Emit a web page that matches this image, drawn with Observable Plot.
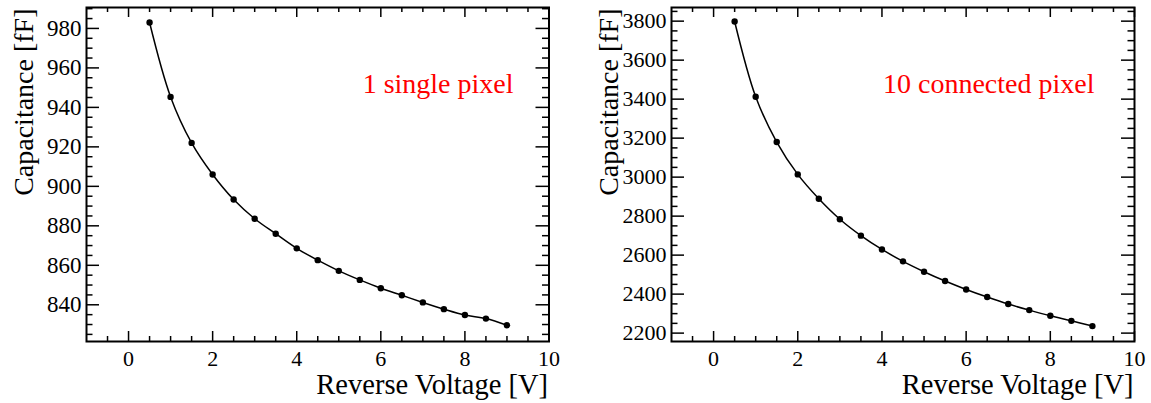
<!DOCTYPE html>
<html>
<head>
<meta charset="utf-8">
<script src="https://cdn.jsdelivr.net/npm/d3@7"></script>
<script src="https://cdn.jsdelivr.net/npm/@observablehq/plot@0.6"></script>
<style>
  html, body { margin: 0; padding: 0; background: #fff; }
  #wrap { position: relative; width: 1151px; height: 403px; overflow: hidden; }
  .panel { position: absolute; top: 0; }
</style>
</head>
<body>
<div id="wrap"><div class="panel" id="left" style="left:0"></div><div class="panel" id="right" style="left:575px"></div></div>
<script>
// ---- data ----
const voltage = [0.5, 1, 1.5, 2, 2.5, 3, 3.5, 4, 4.5, 5, 5.5, 6, 6.5, 7, 7.5, 8, 8.5, 9];
const capSingle = [983.0, 945.3, 922.0, 906.0, 893.3, 883.6, 876.0, 868.6, 862.6, 857.2, 852.6, 848.4, 844.8, 841.2, 837.8, 834.8, 833.0, 829.6];
const capConnected = [3798, 3412, 3180, 3014, 2889, 2784, 2700, 2629, 2568, 2515, 2467, 2424, 2385, 2349, 2318, 2289, 2263, 2236];

const xMajorTicks = [0, 2, 4, 6, 8, 10];
const xMinorTicks = [-0.5, 0.5, 1, 1.5, 2.5, 3, 3.5, 4.5, 5, 5.5, 6.5, 7, 7.5, 8.5, 9, 9.5];

const ySingleMajor = [840, 860, 880, 900, 920, 940, 960, 980];
const ySingleMinor = [825, 830, 835, 845, 850, 855, 865, 870, 875, 885, 890, 895, 905, 910, 915, 925, 930, 935, 945, 950, 955, 965, 970, 975, 985, 990];
const yConnMajor = [2200, 2400, 2600, 2800, 3000, 3200, 3400, 3600, 3800];
const yConnMinor = [2250, 2300, 2350, 2450, 2500, 2550, 2650, 2700, 2750, 2850, 2900, 2950, 3050, 3100, 3150, 3250, 3300, 3350, 3450, 3500, 3550, 3650, 3700, 3750, 3850];

const xTitle = "Reverse Voltage [V]";
const yTitle = "Capacitance [fF]";
const labelSingle = "1 single pixel";
const labelConnected = "10 connected pixel";

const FONT = "Liberation Serif";

function panel({values, yDomain, yMajor, yMinor, label, width, marginLeft, marginRight, labelDx, yFont}) {
  const H = 403, mt = 7, mb = 62;
  const fh = H - mt - mb;
  const fw = width - marginLeft - marginRight;
  const data = voltage.map((v, i) => ({v, c: values[i]}));
  return Plot.plot({
    width, height: H, marginLeft, marginRight, marginTop: mt, marginBottom: mb,
    x: {domain: [-1, 10], label: null},
    y: {domain: yDomain, label: null},
    style: {fontFamily: FONT, background: "white", color: "black", overflow: "visible"},
    marks: [
      Plot.axisX({ticks: xMajorTicks, tickSize: 0, tickPadding: 9, fontSize: 22, fontFamily: FONT, tickFormat: d => String(d), label: null}),
      Plot.axisY({ticks: yMajor, tickSize: 0, tickPadding: 5, fontSize: yFont, fontFamily: FONT, tickFormat: d => String(d), label: null}),
      // inward ticks, bottom/top
      Plot.tickX(xMajorTicks, {x: d => d, insetTop: fh - 10, strokeWidth: 1.5}),
      Plot.tickX(xMajorTicks, {x: d => d, insetBottom: fh - 10, strokeWidth: 1.5}),
      Plot.tickX(xMinorTicks, {x: d => d, insetTop: fh - 5, strokeWidth: 1.5}),
      Plot.tickX(xMinorTicks, {x: d => d, insetBottom: fh - 5, strokeWidth: 1.5}),
      // inward ticks, left/right
      Plot.tickY(yMajor, {y: d => d, insetRight: fw - 13, strokeWidth: 1.5}),
      Plot.tickY(yMajor, {y: d => d, insetLeft: fw - 13, strokeWidth: 1.5}),
      Plot.tickY(yMinor, {y: d => d, insetRight: fw - 6.5, strokeWidth: 1.5}),
      Plot.tickY(yMinor, {y: d => d, insetLeft: fw - 6.5, strokeWidth: 1.5}),
      Plot.frame({strokeWidth: 2, stroke: "black"}),
      Plot.line(data, {x: "v", y: "c", curve: "catmull-rom", stroke: "black", strokeWidth: 1.5}),
      Plot.dot(data, {x: "v", y: "c", r: 3.2, fill: "black", stroke: "none"}),
      Plot.text([label], {text: d => d, frameAnchor: "top-right", textAnchor: "end", lineAnchor: "bottom", dx: labelDx, dy: 85, fontSize: 28, fontFamily: FONT, fill: "#ff0000"}),
      Plot.text([xTitle], {text: d => d, frameAnchor: "bottom-right", textAnchor: "end", lineAnchor: "bottom", dx: -1, dy: 52.5, fontSize: 28.5, fontFamily: FONT}),
      Plot.text([yTitle], {text: d => d, frameAnchor: "top-left", rotate: -90, textAnchor: "end", lineAnchor: "bottom", dx: -54, dy: 1, fontSize: 28, fontFamily: FONT})
    ]
  });
}

document.getElementById("left").appendChild(panel({
  values: capSingle, yDomain: [821.4, 990.6], yMajor: ySingleMajor, yMinor: ySingleMinor,
  label: labelSingle, width: 575, marginLeft: 86, marginRight: 26.5, labelDx: -35.5, yFont: 23
}));
document.getElementById("right").appendChild(panel({
  values: capConnected, yDomain: [2157, 3870], yMajor: yConnMajor, yMinor: yConnMinor,
  label: labelConnected, width: 576, marginLeft: 96, marginRight: 17, labelDx: -40, yFont: 22
}));
</script>
</body>
</html>
